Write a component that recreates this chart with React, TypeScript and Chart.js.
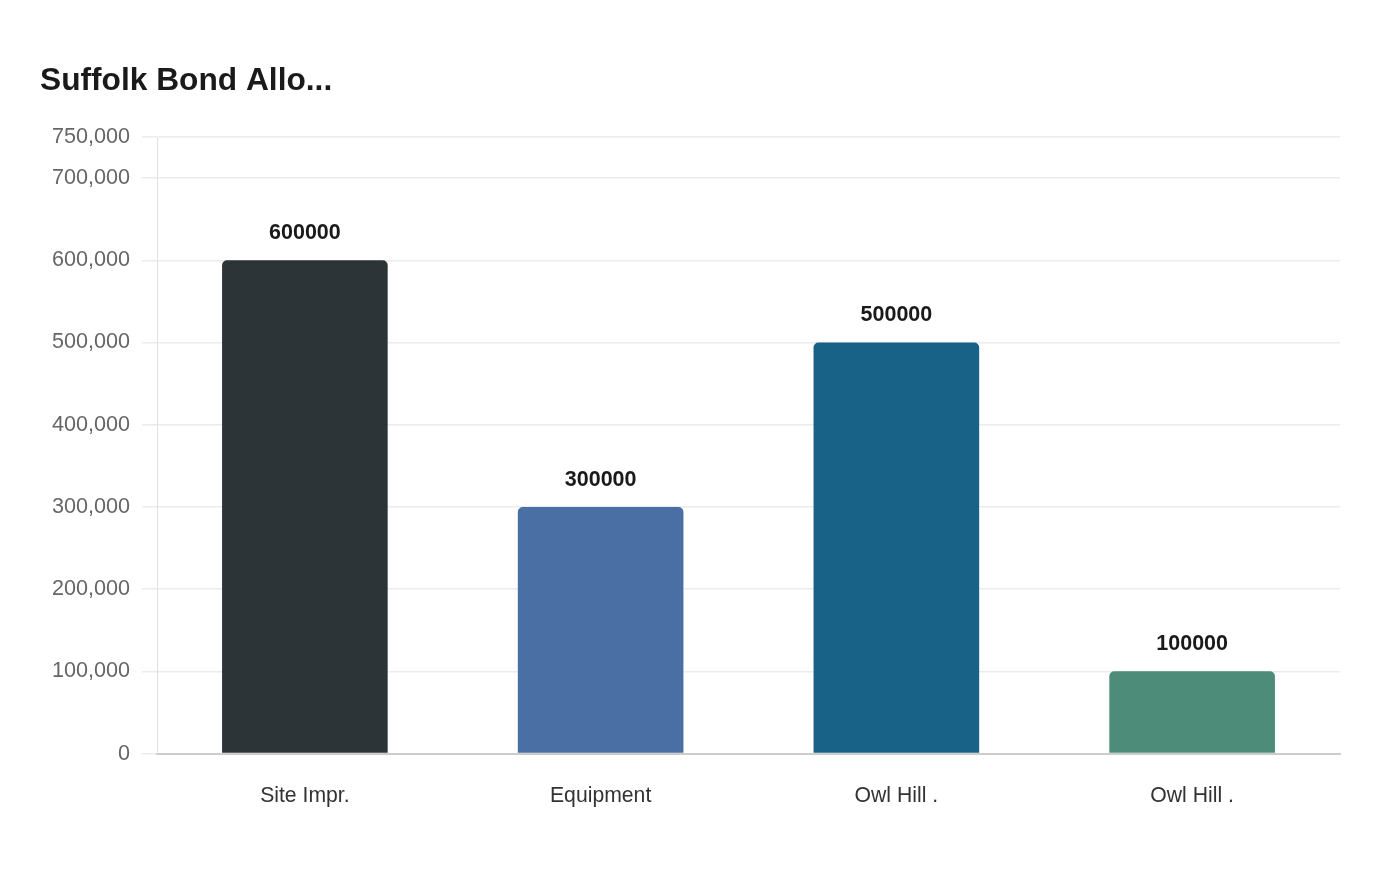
import React, { useEffect, useRef } from "react";
import { Chart, registerables } from "chart.js";

Chart.register(...registerables);

const TITLE = "Suffolk Bond Allo...";
const CATEGORIES = ["Site Impr.", "Equipment", "Owl Hill .", "Owl Hill ."];
const VALUES = [600000, 300000, 500000, 100000];
const BAR_COLORS = ["#2d3437", "#4a6fa5", "#186287", "#4e8c7a"];
const Y_TICKS = [0, 100000, 200000, 300000, 400000, 500000, 600000, 700000, 750000];
const Y_MAX = 750000;

const FONT = "'Liberation Sans', Arial, sans-serif";

const valueLabels = {
  id: "valueLabels",
  afterDatasetsDraw(chart: any) {
    const ctx = chart.ctx;
    const meta = chart.getDatasetMeta(0);
    ctx.save();
    ctx.font = `bold 21.5px ${FONT}`;
    ctx.fillStyle = "#1a1a1a";
    ctx.textAlign = "center";
    ctx.textBaseline = "middle";
    meta.data.forEach((bar: any, i: number) => {
      ctx.fillText(String(VALUES[i]), bar.x, bar.y - 27);
    });
    ctx.restore();
  },
};

export default function App() {
  const ref = useRef<HTMLCanvasElement | null>(null);
  useEffect(() => {
    if (!ref.current) return;
    const chart = new Chart(ref.current, {
      type: "bar",
      data: {
        labels: CATEGORIES,
        datasets: [
          {
            data: VALUES,
            backgroundColor: BAR_COLORS,
            borderRadius: { topLeft: 5, topRight: 5, bottomLeft: 0, bottomRight: 0 },
            borderSkipped: "start",
            barPercentage: 0.7,
            categoryPercentage: 0.8,
          },
        ],
      },
      options: {
        animation: false,
        responsive: true,
        maintainAspectRatio: false,
        layout: { padding: { top: 62, left: 40, right: 60, bottom: 49 } },
        plugins: {
          legend: { display: false },
          tooltip: { enabled: false },
          title: {
            display: true,
            text: TITLE,
            align: "start",
            color: "#1a1a1a",
            font: { family: FONT, size: 31.7, weight: "bold" },
            padding: { top: 0, bottom: 37 },
          },
        },
        scales: {
          x: {
            grid: { display: false },
            border: { display: true, color: "#cccccc", width: 2 },
            ticks: {
              color: "#333333",
              font: { family: FONT, size: 21.2 },
              padding: 22,
            },
          },
          y: {
            min: 0,
            max: Y_MAX,
            afterBuildTicks(scale: any) {
              scale.ticks = Y_TICKS.map((v) => ({ value: v }));
            },
            afterFit(scale: any) {
              scale.width = 117;
            },
            grid: { color: "#ebebeb", lineWidth: 1.5, tickLength: 15 },
            border: { display: true, color: "#e0e0e0", width: 1 },
            ticks: {
              color: "#666666",
              font: { family: FONT, size: 21.6 },
              padding: 12,
              callback: (v: any) => Number(v).toLocaleString("en-US"),
            },
          },
        },
      },
      plugins: [valueLabels],
    });
    return () => chart.destroy();
  }, []);
  return (
    <div style={{ position: "fixed", left: 0, top: 0, width: 1400, height: 880, background: "#fff" }}>
      <canvas ref={ref} />
    </div>
  );
}
